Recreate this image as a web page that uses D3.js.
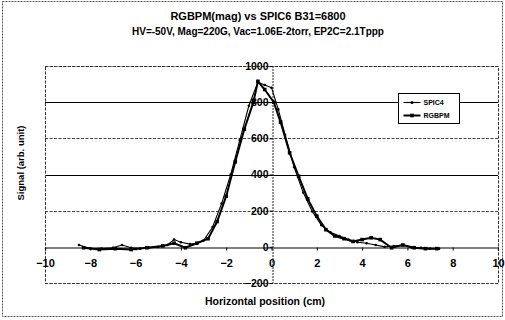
<!DOCTYPE html>
<html>
<head>
<meta charset="utf-8">
<script src="https://cdn.jsdelivr.net/npm/d3@7"></script>
<style>
  body { margin: 0; background: #fff; }
  text { font-family: "Liberation Sans", Arial, sans-serif; font-weight: bold; fill: #000; }
</style>
</head>
<body>
<div id="app"></div>
<script>
const WIDTH = 505;
const HEIGHT = 320;

const titleLines = ['RGBPM(mag) vs SPIC6 B31=6800', 'HV=-50V, Mag=220G, Vac=1.06E-2torr, EP2C=2.1Tppp'];
const titleSizes = [11, 10];
const xTicks = [-10, -8, -6, -4, -2, 0, 2, 4, 6, 8, 10];
const yTicks = [-200, 0, 200, 400, 600, 800, 1000];
const solidGrid = [800, 400];

// SPIC4 (thin line, small markers)
const spicX = [-8.5, -8, -7.5, -7, -6.6, -6.2, -5.8, -5.4, -5, -4.6, -4.3, -4, -3.6, -3.3, -3, -2.6, -2.2, -1.8, -1.4, -1, -0.6, -0.3, 0, 0.3, 0.6, 1, 1.4, 1.8, 2.2, 2.6, 3, 3.4, 3.8, 4.2, 4.6, 5, 5.4, 5.8, 6.2, 6.6, 7, 7.4];
const spicY = [10, -10, -10, -5, 10, -5, -10, -5, 0, 10, 40, 25, 15, 20, 35, 110, 240, 400, 590, 780, 910, 895, 880, 760, 620, 440, 300, 195, 120, 80, 60, 40, 25, 20, 10, 0, 5, 10, -5, -5, -10, -10];

// RGBPM (thick line, square markers)
const rgbX = [-8.3, -7.6, -6.9, -6.2, -5.5, -4.8, -4.3, -3.8, -3.3, -2.8, -2.4, -2, -1.6, -1.2, -0.8, -0.6, -0.3, 0.1, 0.4, 0.8, 1.2, 1.6, 2, 2.4, 2.8, 3.2, 3.6, 4, 4.4, 4.8, 5.3, 5.8, 6.3, 6.8, 7.3];
const rgbY = [-5, -15, -10, -15, -5, 5, 20, -5, 20, 45, 140, 280, 470, 650, 800, 915, 870, 800, 690, 520, 390, 265, 170, 95, 60, 45, 30, 40, 50, 40, -5, 10, -5, -10, -10];

const seriesNames = ['SPIC4', 'RGBPM'];

const plot = { left: 45, right: 498, top: 66, bottom: 283 };

const svg = d3.select('#app').append('svg')
  .attr('width', WIDTH)
  .attr('height', HEIGHT);

svg.append('rect')
  .attr('x', 2.5).attr('y', 1.5)
  .attr('width', WIDTH - 5).attr('height', HEIGHT - 5)
  .attr('fill', '#fff')
  .attr('stroke', '#555')
  .attr('stroke-dasharray', '2,1');

const x = d3.scaleLinear().domain([-10, 10]).range([plot.left, plot.right]);
const y = d3.scaleLinear().domain([-200, 1000]).range([plot.bottom, plot.top]);

// title
svg.selectAll('text.title')
  .data(titleLines)
  .enter().append('text')
  .attr('class', 'title')
  .attr('x', 258)
  .attr('y', (d, i) => 20 + i * 15)
  .attr('text-anchor', 'middle')
  .style('font-size', (d, i) => titleSizes[i] + 'px')
  .text(d => d);

// gridlines
svg.append('g').selectAll('line')
  .data(yTicks.filter(v => v !== 0))
  .enter().append('line')
  .attr('x1', plot.left).attr('x2', plot.right)
  .attr('y1', d => Math.round(y(d)) + 0.5)
  .attr('y2', d => Math.round(y(d)) + 0.5)
  .attr('stroke', d => solidGrid.includes(d) ? '#000' : '#444')
  .attr('stroke-width', d => solidGrid.includes(d) ? 1.2 : 1)
  .attr('stroke-dasharray', d => solidGrid.includes(d) ? null : '3,1.5');

// plot border
svg.append('rect')
  .attr('x', plot.left + 0.5).attr('y', plot.top + 0.5)
  .attr('width', plot.right - plot.left).attr('height', plot.bottom - plot.top)
  .attr('fill', 'none')
  .attr('stroke', '#333')
  .attr('stroke-dasharray', '3,1.5');

// x axis at y = 0
const xAxis = svg.append('g')
  .attr('transform', `translate(0,${Math.round(y(0)) + 0.5})`)
  .call(d3.axisBottom(x).tickValues(xTicks).tickSize(3).tickFormat(d => d < 0 ? '\u2212' + Math.abs(d) : d));
xAxis.select('.domain').attr('stroke', '#000').attr('stroke-width', 1.2);
xAxis.selectAll('.tick line').attr('stroke', '#000');
xAxis.selectAll('.tick text')
  .attr('y', 12)
  .style('font-size', '11px')
  .style('font-family', '"Liberation Sans", Arial, sans-serif')
  .style('font-weight', 'bold');

// y axis at x = 0
const yAxis = svg.append('g')
  .attr('transform', `translate(${Math.round(x(0)) + 0.5},0)`)
  .call(d3.axisLeft(y).tickValues(yTicks).tickSize(3).tickFormat(d => d < 0 ? '\u2212' + Math.abs(d) : d));
yAxis.select('.domain').attr('stroke', '#222').attr('stroke-dasharray', '2,1');
yAxis.selectAll('.tick line').attr('stroke', '#000');
yAxis.selectAll('.tick text')
  .attr('x', -4)
  .style('font-size', '10.5px')
  .style('font-family', '"Liberation Sans", Arial, sans-serif')
  .style('font-weight', 'bold');

// axis titles
svg.append('text')
  .attr('transform', 'translate(24,163) rotate(-90)')
  .attr('text-anchor', 'middle')
  .style('font-size', '9.5px')
  .text('Signal (arb. unit)');

svg.append('text')
  .attr('x', 265).attr('y', 305)
  .attr('text-anchor', 'middle')
  .style('font-size', '10.5px')
  .text('Horizontal position (cm)');

// series
const line = d3.line().x(d => x(d[0])).y(d => y(d[1]));
const spic = spicX.map((v, i) => [v, spicY[i]]);
const rgb = rgbX.map((v, i) => [v, rgbY[i]]);

svg.append('path')
  .datum(spic)
  .attr('fill', 'none')
  .attr('stroke', '#000')
  .attr('stroke-width', 1.1)
  .attr('d', line);

svg.append('g').selectAll('circle')
  .data(spic)
  .enter().append('circle')
  .attr('cx', d => x(d[0])).attr('cy', d => y(d[1]))
  .attr('r', 1.3)
  .attr('fill', '#000');

svg.append('path')
  .datum(rgb)
  .attr('fill', 'none')
  .attr('stroke', '#000')
  .attr('stroke-width', 2)
  .attr('d', line);

svg.append('g').selectAll('rect')
  .data(rgb)
  .enter().append('rect')
  .attr('x', d => x(d[0]) - 1.8).attr('y', d => y(d[1]) - 1.8)
  .attr('width', 3.6).attr('height', 3.6)
  .attr('fill', '#000');

// legend
const legend = svg.append('g').attr('transform', 'translate(398.5,93.5)');
legend.append('rect')
  .attr('width', 61).attr('height', 30)
  .attr('fill', '#fff')
  .attr('stroke', '#000');

seriesNames.forEach((name, i) => {
  const ly = 9 + i * 13;
  legend.append('line')
    .attr('x1', 5).attr('x2', 22)
    .attr('y1', ly).attr('y2', ly)
    .attr('stroke', '#000')
    .attr('stroke-width', i === 0 ? 1.1 : 2);
  if (i === 0) {
    legend.append('circle').attr('cx', 13.5).attr('cy', ly).attr('r', 1.5).attr('fill', '#000');
  } else {
    legend.append('rect').attr('x', 11.7).attr('y', ly - 1.8).attr('width', 3.6).attr('height', 3.6).attr('fill', '#000');
  }
  legend.append('text')
    .attr('x', 25).attr('y', ly + 2.5)
    .style('font-size', '7px')
    .text(name);
});
</script>
</body>
</html>
